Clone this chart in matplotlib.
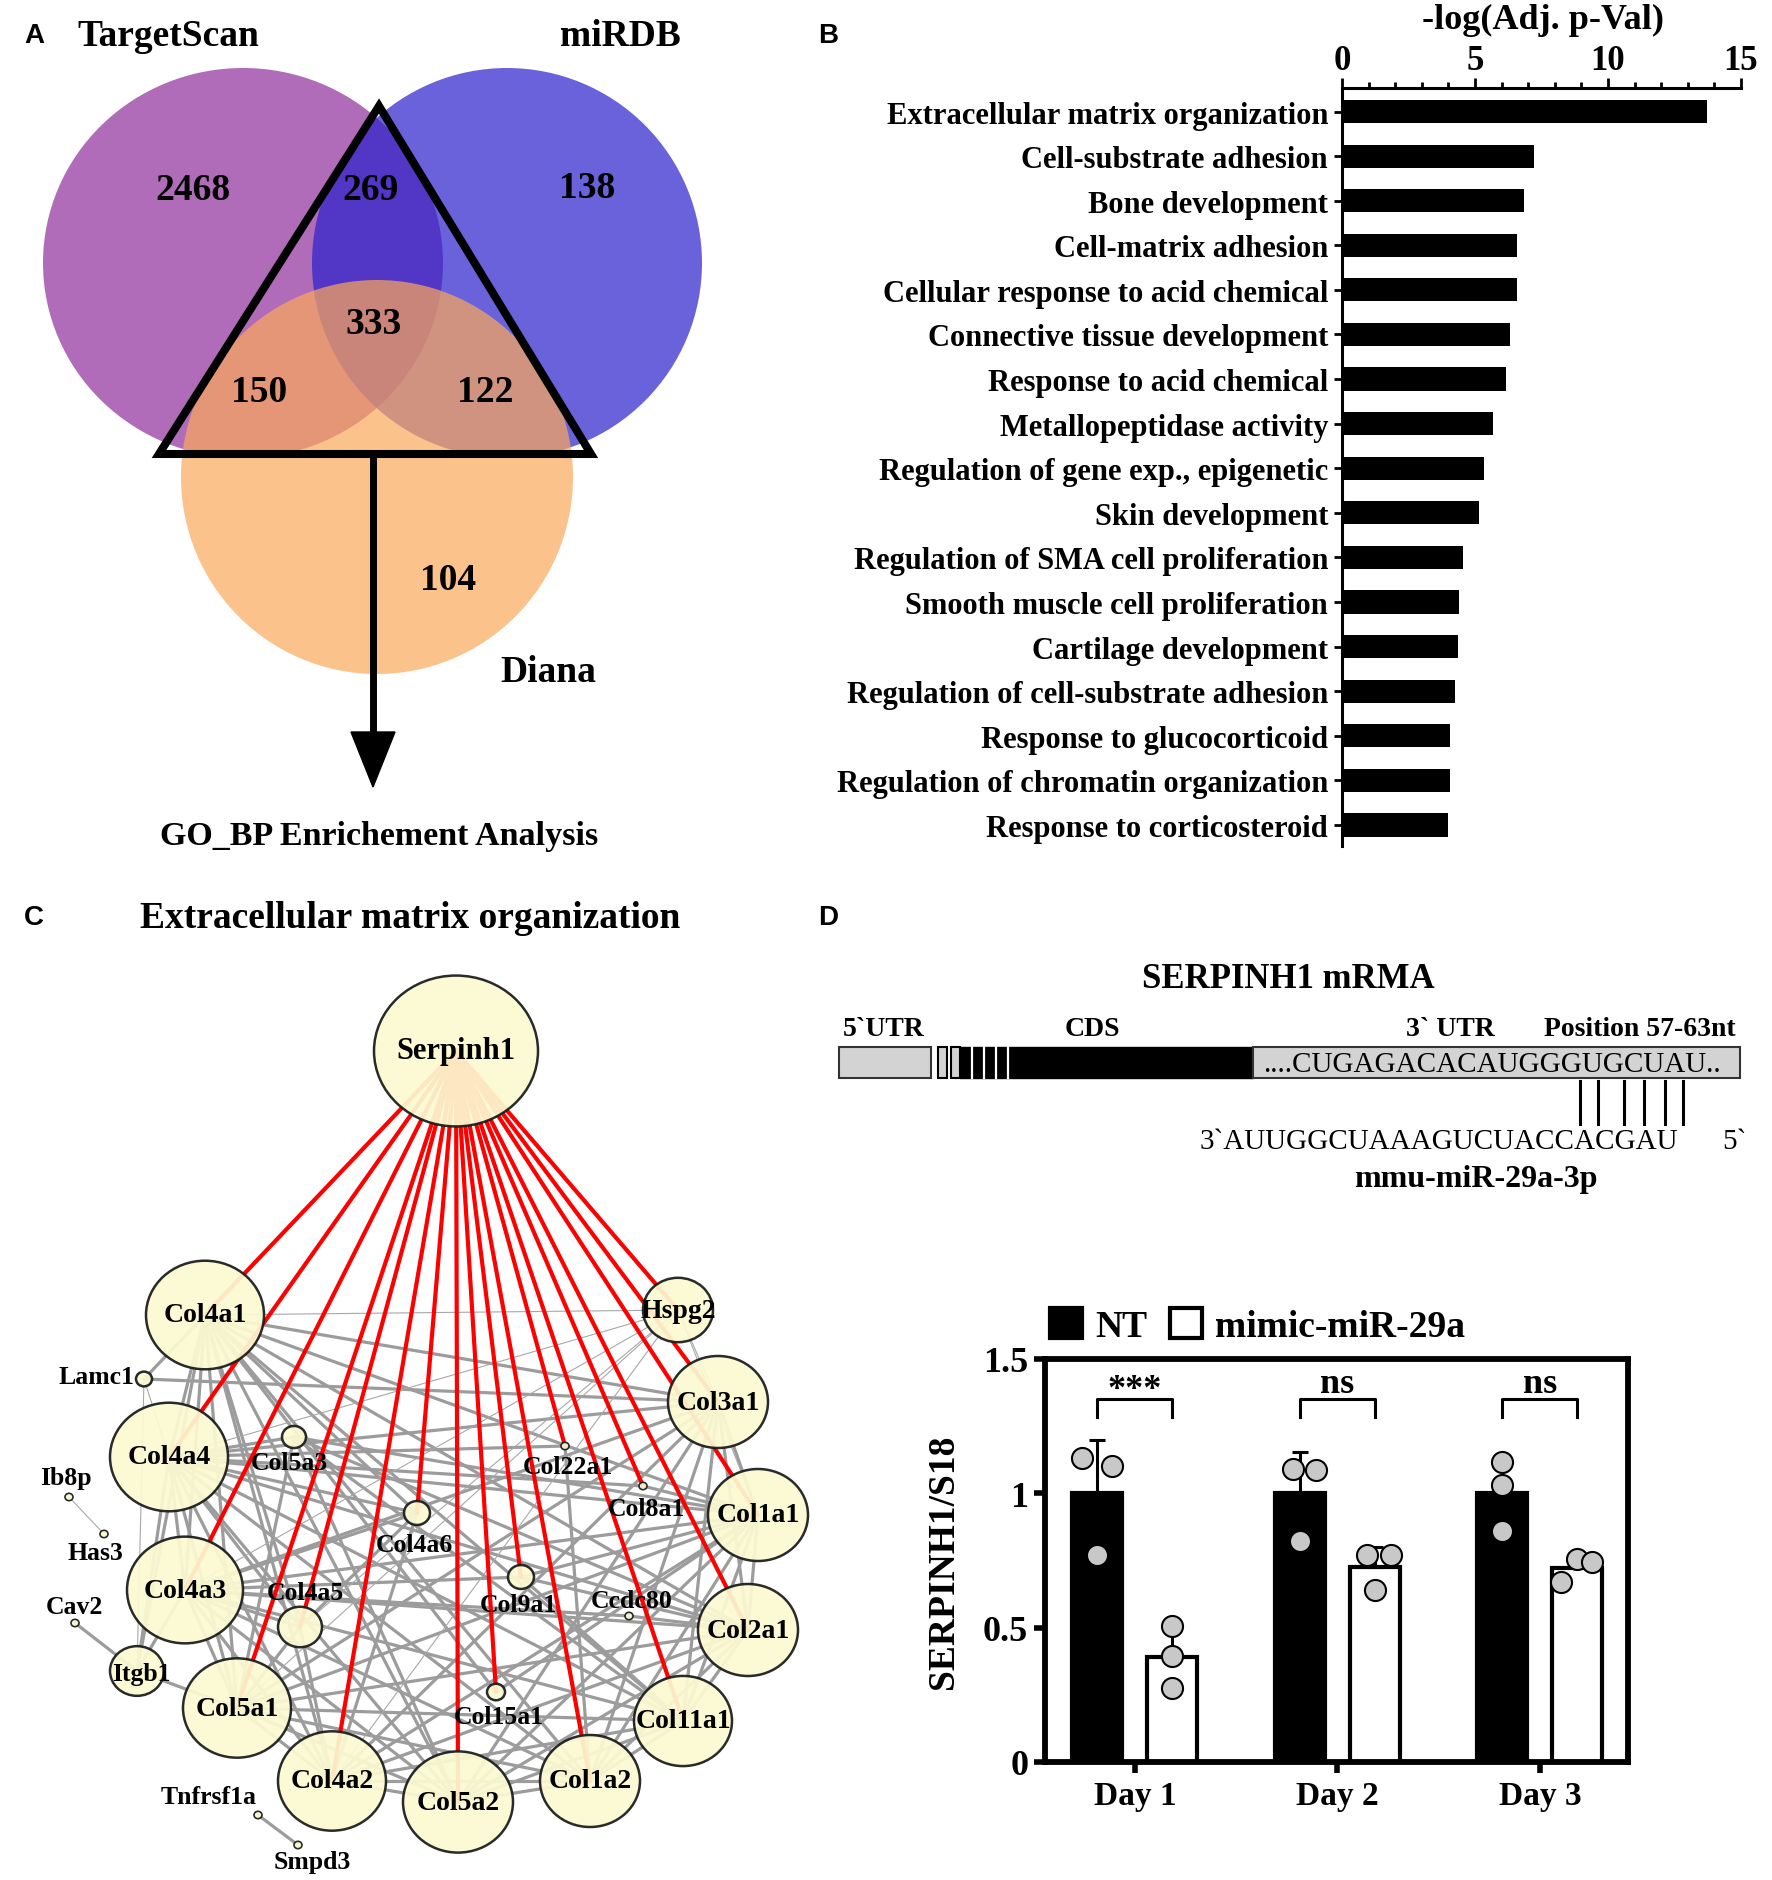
import numpy as np
import matplotlib
matplotlib.use("Agg")
import matplotlib.pyplot as plt
from matplotlib.patches import Ellipse, Rectangle, Polygon
from matplotlib.ticker import MultipleLocator
from itertools import combinations

W, H, DPI = 1772, 1881, 100
plt.rcParams['font.family'] = ['Liberation Serif', 'DejaVu Serif']
plt.rcParams['font.weight'] = 'bold'
plt.rcParams['axes.labelweight'] = 'bold'

# ---------------- Panel A data (Venn) ----------------
venn_names = ["TargetScan", "miRDB", "Diana"]
venn_colors = ["#b06cb8", "#2a20cd", "#fca85a"]
venn_alpha = [1.0, 0.7, 0.7]
venn_cx = [243, 507, 377]
venn_cy = [264, 264, 478]
venn_rx = [200, 195, 196]
venn_ry = [195, 195, 197]
venn_counts = ["2468", "269", "138", "333", "150", "122", "104"]
venn_count_x = [193, 371, 587, 374, 259, 485, 448]
venn_count_y = [190, 190, 188, 325, 392, 392, 581]

# ---------------- Panel B data ----------------
go_terms = ["Extracellular matrix organization", "Cell-substrate adhesion",
            "Bone development", "Cell-matrix adhesion",
            "Cellular response to acid chemical", "Connective tissue development",
            "Response to acid chemical", "Metallopeptidase activity",
            "Regulation of gene exp., epigenetic", "Skin development",
            "Regulation of SMA cell proliferation", "Smooth muscle cell proliferation",
            "Cartilage development", "Regulation of cell-substrate adhesion",
            "Response to glucocorticoid", "Regulation of chromatin organization",
            "Response to corticosteroid"]
go_values = [13.72, 7.2, 6.83, 6.57, 6.57, 6.3, 6.18, 5.68, 5.32, 5.16,
             4.55, 4.41, 4.36, 4.25, 4.07, 4.06, 3.98]

# ---------------- Panel C data (network) ----------------
node_names = ["Serpinh1", "Col4a1", "Hspg2", "Lamc1", "Col4a4", "Col5a3", "Col3a1",
              "Col22a1", "Ib8p", "Has3", "Col8a1", "Col1a1", "Col4a6", "Col4a3",
              "Col4a5", "Col9a1", "Ccdc80", "Cav2", "Itgb1", "Col2a1", "Col5a1",
              "Col15a1", "Col11a1", "Col4a2", "Col5a2", "Col1a2", "Tnfrsf1a", "Smpd3"]
node_x = [456, 205, 678, 144, 169, 294, 718, 565, 69, 104, 643, 758, 417, 185,
          300, 521, 629, 75, 137, 748, 237, 496, 683, 332, 458, 590, 258, 298]
node_y = [1052, 1316, 1311, 1380, 1458, 1438, 1403, 1447, 1498, 1535, 1487, 1516, 1514, 1591,
          1628, 1578, 1617, 1624, 1672, 1631, 1709, 1693, 1722, 1782, 1803, 1782, 1816, 1846]
node_r = [82, 59, 35, 8, 59, 12, 50, 4, 4, 4, 4, 50, 13, 58,
          22, 13, 4, 4, 27, 50, 54, 9, 49, 54, 55, 50, 4, 4]
label_pos = {"Lamc1": (97, 1378), "Col5a3": (289, 1463), "Col22a1": (568, 1468),
             "Ib8p": (66, 1479), "Has3": (95, 1554), "Col8a1": (646, 1509),
             "Col4a6": (414, 1546), "Col4a5": (305, 1594), "Col9a1": (518, 1605),
             "Ccdc80": (632, 1601), "Cav2": (74, 1608), "Col15a1": (499, 1717),
             "Tnfrsf1a": (209, 1798), "Smpd3": (312, 1862), "Itgb1": (141, 1674)}
red_targets = ["Col4a1", "Col4a4", "Col4a3", "Col5a1", "Col4a5", "Col4a2", "Col4a6",
               "Col5a2", "Col15a1", "Col9a1", "Col1a2", "Col22a1", "Col8a1",
               "Col11a1", "Col2a1", "Col1a1", "Col3a1", "Hspg2"]
core_collagens = ["Col4a1", "Col4a4", "Col4a3", "Col5a1", "Col4a2", "Col5a2",
                  "Col1a2", "Col11a1", "Col2a1", "Col1a1", "Col3a1"]
extra_thick_edges = [("Col5a3", "Col5a1"), ("Col5a3", "Col5a2"), ("Col5a3", "Col1a1"),
                     ("Col5a3", "Col2a1"), ("Col5a3", "Col11a1"), ("Col5a3", "Col4a4"),
                     ("Col4a6", "Col4a1"), ("Col4a6", "Col4a2"), ("Col4a6", "Col4a3"),
                     ("Col4a6", "Col4a4"), ("Col4a6", "Col4a5"), ("Col4a5", "Col4a1"),
                     ("Col4a5", "Col4a2"), ("Col4a5", "Col4a3"), ("Col4a5", "Col4a4"),
                     ("Col4a5", "Col5a1"), ("Col9a1", "Col2a1"), ("Col9a1", "Col11a1"),
                     ("Col9a1", "Col1a1"), ("Col9a1", "Col4a3"), ("Col15a1", "Col4a1"),
                     ("Col15a1", "Col1a1"), ("Col22a1", "Col4a4"), ("Col22a1", "Col1a2"),
                     ("Col8a1", "Col4a4"), ("Col8a1", "Col1a1"), ("Ccdc80", "Col4a3"),
                     ("Ccdc80", "Col2a1"), ("Itgb1", "Col4a1"), ("Itgb1", "Col4a4"),
                     ("Itgb1", "Col4a3"), ("Itgb1", "Col5a1"), ("Lamc1", "Col4a1"),
                     ("Lamc1", "Col3a1"), ("Cav2", "Itgb1"), ("Tnfrsf1a", "Smpd3")]
extra_thin_edges = [("Hspg2", "Col4a1"), ("Hspg2", "Col4a4"), ("Hspg2", "Col4a3"),
                    ("Hspg2", "Col4a2"), ("Hspg2", "Col5a1"), ("Hspg2", "Col3a1"),
                    ("Hspg2", "Col4a5"), ("Lamc1", "Itgb1"), ("Lamc1", "Col4a4"),
                    ("Ib8p", "Has3"), ("Hspg2", "Col1a1")]

# ---------------- Panel D data ----------------
utr_seq = "....CUGAGACACAUGGGUGCUAU.."
mir_seq = "3`AUUGGCUAAAGUCUACCACGAU"
days = ["Day 1", "Day 2", "Day 3"]
groups = ["NT", "mimic-miR-29a"]
nt_points = [[1.13, 1.10, 0.77], [1.09, 1.086, 0.824], [1.117, 1.031, 0.86]]
mimic_points = [[0.507, 0.393, 0.274], [0.771, 0.769, 0.64], [0.755, 0.745, 0.67]]
nt_jitter = [[-0.075, 0.07, 0.0], [-0.035, 0.08, 0.0], [0.0, 0.0, 0.0]]
mimic_jitter = [[0.0, 0.0, 0.0], [-0.04, 0.08, 0.0], [0.0, 0.07, -0.08]]
sig_labels = ["***", "ns", "ns"]
sig_label_y = [1.385, 1.41, 1.41]

# ================= Figure =================
fig = plt.figure(figsize=(W / DPI, H / DPI), dpi=DPI)
ov = fig.add_axes([0, 0, 1, 1])
ov.set_xlim(0, W)
ov.set_ylim(H, 0)
ov.axis('off')

for lab, (x, y) in zip("ABCD", [(34, 36), (828, 36), (34, 918), (828, 918)]):
    ov.text(x, y, lab, fontfamily='Liberation Sans', fontweight='bold', fontsize=20,
            ha='center', va='center')

# ---- Panel A ----
for cx, cy, rx, ry, c, a in zip(venn_cx, venn_cy, venn_rx, venn_ry, venn_colors, venn_alpha):
    ov.add_patch(Ellipse((cx, cy), 2 * rx, 2 * ry, facecolor=c, alpha=a, edgecolor='none', zorder=1))
for t, x, y in zip(venn_counts, venn_count_x, venn_count_y):
    ov.text(x, y, t, fontsize=27, ha='center', va='center', zorder=5)
ov.text(168, 36, venn_names[0], fontsize=27, ha='center', va='center')
ov.text(620, 36, venn_names[1], fontsize=27, ha='center', va='center')
ov.text(548, 673, venn_names[2], fontsize=27, ha='center', va='center')
ov.add_patch(Polygon([(379, 107), (159, 455), (591, 455)], closed=True, fill=False,
                     edgecolor='black', lw=5.8, joinstyle='miter', zorder=4))
ov.plot([373, 373], [455, 735], color='black', lw=5, solid_capstyle='butt', zorder=4)
ov.add_patch(Polygon([(351, 733), (395, 733), (373, 788)], closed=True,
                     facecolor='black', edgecolor='black', zorder=4))
ov.text(379, 836, "GO_BP Enrichement Analysis", fontsize=24.5, ha='center', va='center')

# ---- Panel B ----
axb = fig.add_axes([1342 / W, 1 - 847 / H, (1741 - 1342) / W, (847 - 89) / H])
ypos = np.arange(len(go_terms))
axb.barh(ypos, go_values, height=0.52, color='black')
axb.set_xlim(0, 15)
axb.set_ylim(16.47, -0.527)
axb.xaxis.tick_top()
axb.set_xticks([0, 5, 10, 15])
axb.xaxis.set_minor_locator(MultipleLocator(1))
axb.set_yticks(ypos)
axb.set_yticklabels(go_terms)
for s in ['right', 'bottom']:
    axb.spines[s].set_visible(False)
for s in ['left', 'top']:
    axb.spines[s].set_linewidth(2.2)
axb.tick_params(axis='x', which='major', length=7, width=2, labelsize=25, pad=1)
axb.tick_params(axis='x', which='minor', length=4, width=2)
axb.tick_params(axis='y', length=6, width=2, labelsize=22, pad=4)
ov.text(1543, 20, "-log(Adj. p-Val)", fontsize=26, ha='center', va='center')

# ---- Panel C ----
ov.text(410, 918, "Extracellular matrix organization", fontsize=27, ha='center', va='center')
pos = {n: (x, y) for n, x, y in zip(node_names, node_x, node_y)}
for a, b in combinations(core_collagens, 2):
    ov.plot([pos[a][0], pos[b][0]], [pos[a][1], pos[b][1]], color='#9c9c9c', lw=2.3, zorder=2)
for a, b in extra_thick_edges:
    ov.plot([pos[a][0], pos[b][0]], [pos[a][1], pos[b][1]], color='#9c9c9c', lw=2.3, zorder=2)
for a, b in extra_thin_edges:
    ov.plot([pos[a][0], pos[b][0]], [pos[a][1], pos[b][1]], color='#a8a8a8', lw=0.8, zorder=2)
for t in red_targets:
    ov.plot([pos["Serpinh1"][0], pos[t][0]], [pos["Serpinh1"][1], pos[t][1]],
            color='#ff0000', lw=3, zorder=3)
for n, x, y, r in zip(node_names, node_x, node_y, node_r):
    ov.add_patch(Ellipse((x, y), 2 * r, 2 * r * 0.92, facecolor='#fcfad2', alpha=0.93,
                         edgecolor='#1a1a1a', lw=1.8 if r > 6 else 1.2, zorder=4))
    if n in label_pos:
        lx, ly = label_pos[n]
        ov.text(lx, ly, n, fontsize=18.5, ha='center', va='center', zorder=6)
    elif n == "Serpinh1":
        ov.text(x, y, n, fontsize=22, ha='center', va='center', zorder=6)
    else:
        ov.text(x, y, n, fontsize=20, ha='center', va='center', zorder=6)

# ---- Panel D schematic ----
ov.text(1288, 979, "SERPINH1 mRMA", fontsize=25, ha='center', va='center')
for t, x in zip(["5`UTR", "CDS", "3` UTR", "Position 57-63nt"], [884, 1092, 1450, 1640]):
    ov.text(x, 1030, t, fontsize=20, ha='center', va='center')
ov.add_patch(Rectangle((839, 1048), 92, 31, facecolor='#d3d3d3', edgecolor='#333333', lw=1.5))
ov.add_patch(Rectangle((938, 1048), 9, 31, facecolor='#d3d3d3', edgecolor='black', lw=1.5))
ov.add_patch(Rectangle((951, 1048), 9, 31, facecolor='#d3d3d3', edgecolor='black', lw=1.5))
ov.add_patch(Rectangle((960, 1048), 293, 31, facecolor='black', edgecolor='black', lw=1))
for gx in [972, 984, 996, 1008]:
    ov.plot([gx, gx], [1048, 1079], color='white', lw=1.6, zorder=3)
ov.add_patch(Rectangle((1253, 1048), 487, 31, facecolor='#d3d3d3', edgecolor='#333333', lw=1.5))
ov.text(1492, 1065, utr_seq, fontsize=21, fontweight='normal', ha='center', va='center', zorder=5)
for lx in [1580, 1598, 1624, 1644, 1665, 1683]:
    ov.plot([lx, lx], [1082, 1125], color='black', lw=2.2)
ov.text(1200, 1142, mir_seq, fontsize=21, fontweight='normal', ha='left', va='center')
ov.text(1722, 1142, "5`", fontsize=21, fontweight='normal', ha='left', va='center')
ov.text(1476, 1180, "mmu-miR-29a-3p", fontsize=23, ha='center', va='center')

# ---- Panel D bar chart ----
axd = fig.add_axes([1045 / W, 1 - 1763 / H, 583 / W, 403 / H])
xc = np.arange(len(days))
off, bw = 0.185, 0.247
nt_mean = [np.mean(p) for p in nt_points]
nt_sd = [np.std(p, ddof=1) for p in nt_points]
mi_mean = [np.mean(p) for p in mimic_points]
mi_sd = [np.std(p, ddof=1) for p in mimic_points]
b1 = axd.bar(xc - off, nt_mean, width=bw, color='black', edgecolor='black', lw=3, zorder=2)
b2 = axd.bar(xc + off, mi_mean, width=bw, color='white', edgecolor='black', lw=3, zorder=2)
axd.errorbar(xc - off, nt_mean, yerr=[np.zeros(3), nt_sd], fmt='none', ecolor='black',
             elinewidth=2.2, capsize=6, capthick=2.2, zorder=3)
axd.errorbar(xc + off, mi_mean, yerr=[np.zeros(3), mi_sd], fmt='none', ecolor='black',
             elinewidth=2.2, capsize=6, capthick=2.2, zorder=3)
for i in range(3):
    axd.scatter(xc[i] - off + np.array(nt_jitter[i]), nt_points[i], s=230, facecolor='#c8c8c8',
                edgecolor='black', lw=1.5, zorder=4)
    axd.scatter(xc[i] + off + np.array(mimic_jitter[i]), mimic_points[i], s=230,
                facecolor='#c8c8c8', edgecolor='black', lw=1.5, zorder=4)
    axd.plot([xc[i] - off, xc[i] - off, xc[i] + off, xc[i] + off],
             [1.285, 1.35, 1.35, 1.285], color='black', lw=2.2)
    axd.text(xc[i], sig_label_y[i], sig_labels[i], fontsize=26, ha='center', va='center')
axd.set_xlim(-0.444, 2.435)
axd.set_ylim(0, 1.5)
axd.set_xticks(xc)
axd.set_xticklabels(days)
axd.set_yticks([0, 0.5, 1, 1.5])
axd.set_yticklabels(["0", "0.5", "1", "1.5"])
for s in axd.spines.values():
    s.set_linewidth(4.2)
axd.tick_params(axis='y', length=8, width=4, labelsize=26, pad=4)
axd.tick_params(axis='x', length=8, width=4, labelsize=24, pad=5)
axd.set_ylabel("SERPINH1/S18", fontsize=27, fontweight='bold')
axd.yaxis.set_label_coords(-0.144, 0.5)
axd.legend([b1, b2], groups, ncol=2, loc='lower left', bbox_to_anchor=(1050 / W, 1 - 1345 / H),
           bbox_transform=fig.transFigure, frameon=False, fontsize=27, handlelength=0.85,
           handleheight=0.85, handletextpad=0.35, columnspacing=0.6, borderpad=0,
           borderaxespad=0)

fig.savefig("out.png", dpi=DPI, facecolor='white')
